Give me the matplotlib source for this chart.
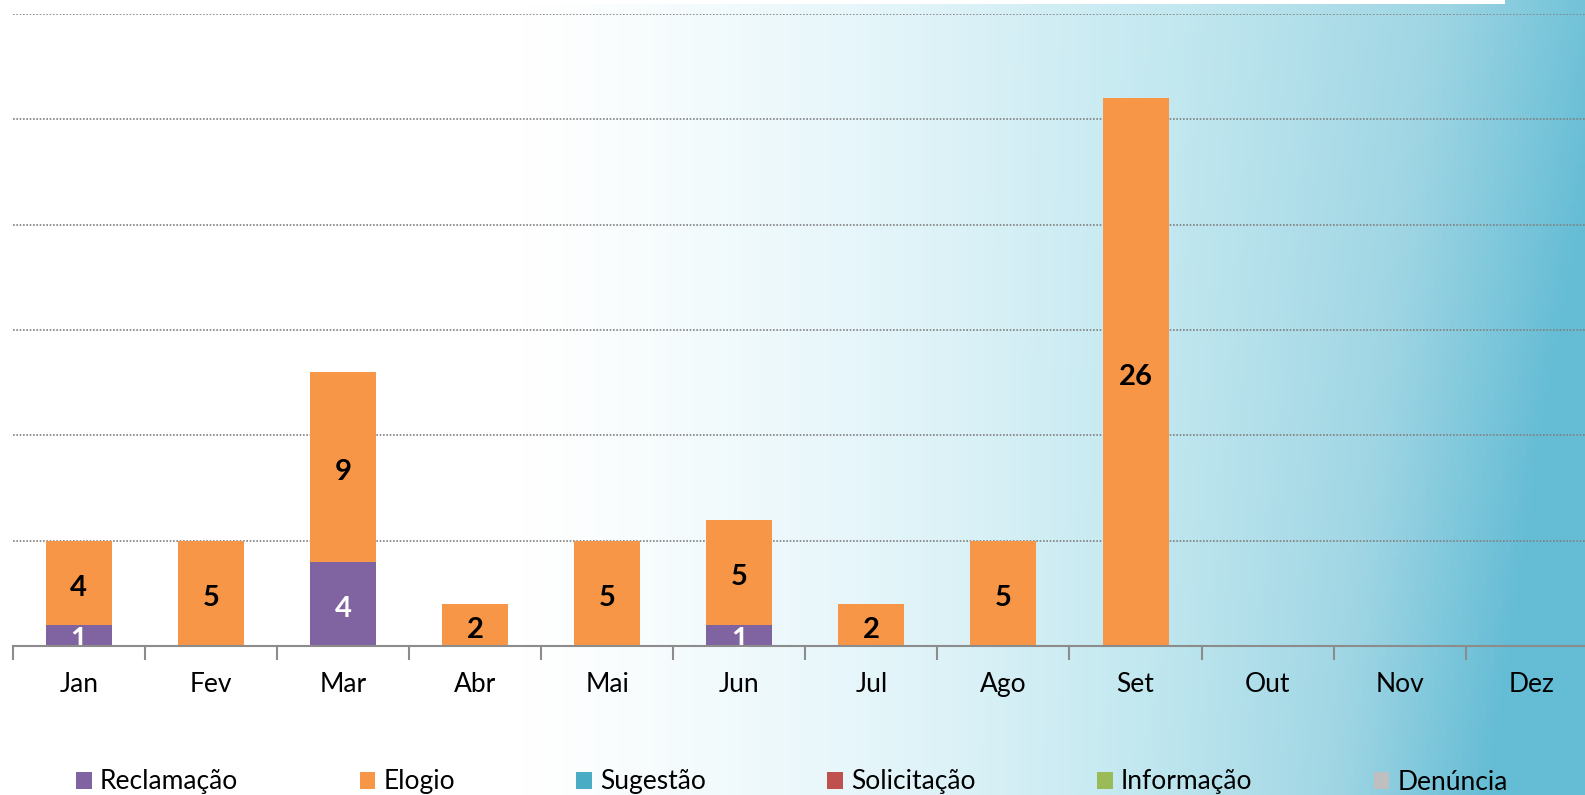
import numpy as np
import matplotlib
matplotlib.use("Agg")
import matplotlib.pyplot as plt
from matplotlib.patches import Patch, Rectangle

plt.rcParams['font.family'] = ['Lato', 'DejaVu Sans']

months = ["Jan", "Fev", "Mar", "Abr", "Mai", "Jun", "Jul", "Ago", "Set", "Out", "Nov", "Dez"]
series_names = ["Reclamação", "Elogio", "Sugestão", "Solicitação", "Informação", "Denúncia"]
reclamacao = [1, 0, 4, 0, 0, 1, 0, 0, 0, 0, 0, 0]
elogio = [4, 5, 9, 2, 5, 5, 2, 5, 26, 0, 0, 0]
sugestao = [0] * 12
solicitacao = [0] * 12
informacao = [0] * 12
denuncia = [0] * 12
colors = ["#8064A2", "#F79646", "#4BACC6", "#C0504D", "#9BBB59", "#BFBFBF"]
label_colors = ["white", "black", "black", "black", "black", "black"]

W, H = 1585, 795
fig = plt.figure(figsize=(W / 100, H / 100), dpi=100)

# background watercolor-like gradient
bg = fig.add_axes([0, 0, 1, 1], zorder=-10)
xs = np.linspace(0, 1, 400)
ys = np.linspace(0, 1, 200)
X, Y = np.meshgrid(xs, ys)  # Y=0 top
t = np.clip((X - 0.33) / 0.67, 0, 1)
t = t ** 1.2
tv = 0.12 * Y * np.clip((X - 0.6) / 0.4, 0, 1) - 0.05 * (1 - Y) * np.clip((X - 0.7) / 0.3, 0, 1)
tt = np.clip(t + tv, 0, 1)
stops = np.array([0.0, 0.25, 0.55, 0.8, 1.0])
cols = np.array([[255, 255, 255], [230, 246, 250], [195, 232, 240], [160, 214, 228], [100, 188, 213]]) / 255
img = np.zeros(X.shape + (3,))
for c in range(3):
    img[..., c] = np.interp(tt, stops, cols[:, c])
bg.imshow(img, extent=[0, 1, 0, 1], aspect='auto', origin='upper')
bg.add_patch(Rectangle((0, 1 - 4 / H), 1505 / W, 4 / H, color='white', lw=0))
bg.set_xlim(0, 1)
bg.set_ylim(0, 1)
bg.axis('off')

x0, step = 12.7, 132.1
y0, ytop = 646, 14
ax = fig.add_axes([x0 / W, (H - y0) / H, 12 * step / W, (y0 - ytop) / H])
ax.patch.set_alpha(0)

x = np.arange(len(months))
all_series = [reclamacao, elogio, sugestao, solicitacao, informacao, denuncia]
bottom = np.zeros(len(months))
for vals, col, lc in zip(all_series, colors, label_colors):
    vals = np.array(vals, dtype=float)
    ax.bar(x, vals, 0.5, bottom=bottom, color=col, zorder=3)
    for xi, v, b in zip(x, vals, bottom):
        if v > 0:
            ax.annotate(f"{int(v)}", (xi, b + v / 2), xytext=(0, -3.5), textcoords='offset points',
                        ha='center', va='center', color=lc, fontsize=21, fontweight='bold',
                        zorder=4, annotation_clip=False)
    bottom += vals

ax.set_xlim(-0.5, 11.5)
ax.set_ylim(0, 30)
ax.set_yticks([5, 10, 15, 20, 25, 30])
ax.yaxis.grid(True, linestyle=(0, (1, 1)), color='#808080', linewidth=1.2, zorder=1)
ax.tick_params(axis='y', left=False, labelleft=False)
ax.set_xticks(x)
ax.set_xticklabels(months, fontsize=19)
ax.tick_params(axis='x', which='major', length=0, pad=19)
ax.set_xticks(np.arange(-0.5, 12, 1), minor=True)
ax.tick_params(axis='x', which='minor', length=10, width=1.5, color='#8c8c8c', direction='out')
for s in ['top', 'right', 'left']:
    ax.spines[s].set_visible(False)
ax.spines['bottom'].set_color('#8c8c8c')
ax.spines['bottom'].set_linewidth(1.5)
ax.spines['bottom'].set_zorder(5)
ax.set_axisbelow(True)

handles = [Patch(facecolor=c, edgecolor='none') for c in colors]
fig.legend(handles, series_names, loc='center', bbox_to_anchor=(792 / W, (H - 782) / H),
           ncol=6, frameon=False, fontsize=19, handlelength=0.6, handleheight=0.6,
           handletextpad=0.3, columnspacing=4.6)

fig.savefig("out.png", dpi=100)
